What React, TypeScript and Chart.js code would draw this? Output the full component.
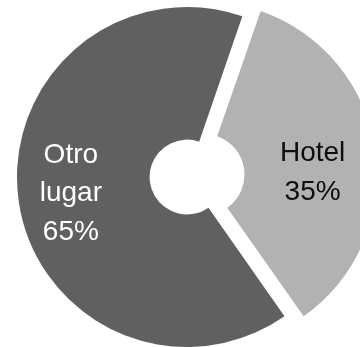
import React, { useEffect, useRef } from "react";
import { Chart, registerables } from "chart.js";

Chart.register(...registerables);

const categories = ["Hotel", "Otro lugar"];
const values = [35, 65];
const labelLines = [["Hotel", "35%"], ["Otro", "lugar", "65%"]];
const colors = ["#b2b2b2", "#606060"];
const textColors = ["#0d0d0d", "#ffffff"];
const offsets = [68, 0];
const labelRadius = [0.64, 0.69];
const labelAngleFrac = [0.555, 0.5];

const labelPlugin = {
  id: "sliceLabels",
  afterDatasetsDraw(chart: any) {
    const ctx = chart.ctx;
    const meta = chart.getDatasetMeta(0);
    ctx.save();
    ctx.font = "28px 'Liberation Sans', Arial, sans-serif";
    ctx.textAlign = "center";
    ctx.textBaseline = "middle";
    meta.data.forEach((arc: any, i: number) => {
      const mid = (arc.startAngle + arc.endAngle) / 2;
      const ang = arc.startAngle + (arc.endAngle - arc.startAngle) * labelAngleFrac[i];
      const shift = (offsets[i] || 0) / 4;
      const cx = arc.x + Math.cos(mid) * shift;
      const cy = arc.y + Math.sin(mid) * shift;
      const d = arc.outerRadius * labelRadius[i];
      const x = cx + Math.cos(ang) * d;
      const y = cy + Math.sin(ang) * d;
      const lines = labelLines[i];
      const lh = 38.5;
      ctx.fillStyle = textColors[i];
      lines.forEach((t: string, k: number) => {
        ctx.fillText(t, x, y + (k - (lines.length - 1) / 2) * lh);
      });
    });
    ctx.restore();
  },
};

export default function App() {
  const ref = useRef<HTMLCanvasElement>(null);
  useEffect(() => {
    if (!ref.current) return;
    const chart = new Chart(ref.current, {
      type: "doughnut",
      data: {
        labels: categories,
        datasets: [
          {
            data: values,
            backgroundColor: colors,
            borderWidth: 0,
            offset: offsets,
          },
        ],
      },
      options: {
        responsive: false,
        animation: false,
        rotation: 19,
        radius: 170,
        cutout: "22%",
        events: [],
        plugins: {
          legend: { display: false },
          tooltip: { enabled: false },
        },
        layout: { padding: 0 },
      },
      plugins: [labelPlugin],
    });
    return () => chart.destroy();
  }, []);
  return (
    <div
      style={{
        position: "fixed",
        left: 0,
        top: 0,
        width: 360,
        height: 347,
        overflow: "hidden",
        background: "#fff",
      }}
    >
      <canvas ref={ref} width={374} height={354} style={{ width: 374, height: 354, display: "block" }} />
    </div>
  );
}
